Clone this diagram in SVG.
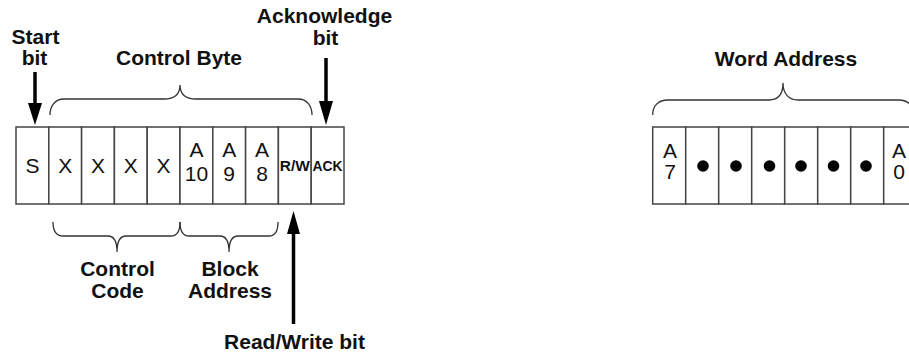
<svg xmlns="http://www.w3.org/2000/svg" width="909" height="360" viewBox="0 0 909 360">
<style>
.lbl{font-family:"Liberation Sans",Arial,sans-serif;font-weight:bold;font-size:21px;fill:#111;text-anchor:middle}
.cell{fill:#fff;stroke:#444;stroke-width:1.5}
.ct{font-family:"Liberation Sans",Arial,sans-serif;font-size:21px;fill:#111;text-anchor:middle}
.cs{font-family:"Liberation Sans",Arial,sans-serif;font-size:21px;fill:#111;text-anchor:middle}
.sm{font-family:"Liberation Sans",Arial,sans-serif;font-weight:bold;font-size:14px;fill:#111;text-anchor:middle}
.brace{fill:none;stroke:#333;stroke-width:1.3}
.shaft{stroke:#000;stroke-width:3.5;fill:none}
.head{fill:#000}
</style>
<rect width="909" height="360" fill="#fff"/>
<g id="control-byte-row">
<rect class="cell" x="16" y="127" width="32.8" height="77"/>
<rect class="cell" x="48.8" y="127" width="32.8" height="77"/>
<rect class="cell" x="81.6" y="127" width="32.8" height="77"/>
<rect class="cell" x="114.4" y="127" width="32.8" height="77"/>
<rect class="cell" x="147.2" y="127" width="32.8" height="77"/>
<rect class="cell" x="180" y="127" width="32.8" height="77"/>
<rect class="cell" x="212.8" y="127" width="32.8" height="77"/>
<rect class="cell" x="245.6" y="127" width="32.8" height="77"/>
<rect class="cell" x="278.4" y="127" width="32.8" height="77"/>
<rect class="cell" x="311.2" y="127" width="32.8" height="77"/>
<text class="ct" x="32.4" y="173">S</text>
<text class="ct" x="65.2" y="173">X</text>
<text class="ct" x="98" y="173">X</text>
<text class="ct" x="130.8" y="173">X</text>
<text class="ct" x="163.6" y="173">X</text>
<text class="cs" x="196.4" y="157">A</text>
<text class="cs" x="196.4" y="181">10</text>
<text class="cs" x="229.2" y="157">A</text>
<text class="cs" x="229.2" y="181">9</text>
<text class="cs" x="262" y="157">A</text>
<text class="cs" x="262" y="181">8</text>
<text class="sm" x="294.8" y="171" textLength="30" lengthAdjust="spacingAndGlyphs">R/W</text>
<text class="sm" x="327.6" y="171" textLength="30" lengthAdjust="spacingAndGlyphs">ACK</text>
</g>
<g id="word-address-row">
<rect class="cell" x="652.7" y="127" width="33" height="77"/>
<rect class="cell" x="685.7" y="127" width="33" height="77"/>
<rect class="cell" x="718.7" y="127" width="33" height="77"/>
<rect class="cell" x="751.7" y="127" width="33" height="77"/>
<rect class="cell" x="784.7" y="127" width="33" height="77"/>
<rect class="cell" x="817.7" y="127" width="33" height="77"/>
<rect class="cell" x="850.7" y="127" width="33" height="77"/>
<rect class="cell" x="883.7" y="127" width="40" height="77"/>
<text class="cs" x="670" y="158">A</text>
<text class="cs" x="670" y="179">7</text>
<circle cx="703" cy="166" r="5.8" fill="#000"/>
<circle cx="736" cy="166" r="5.8" fill="#000"/>
<circle cx="769.5" cy="166" r="5.8" fill="#000"/>
<circle cx="801" cy="166" r="5.8" fill="#000"/>
<circle cx="833.5" cy="166" r="5.8" fill="#000"/>
<circle cx="866" cy="166" r="5.8" fill="#000"/>
<text class="cs" x="899" y="158">A</text>
<text class="cs" x="899" y="179">0</text>
</g>
<g id="labels">
<text class="lbl" x="35.5" y="44">Start</text>
<text class="lbl" x="34.5" y="65">bit</text>
<text class="lbl" x="179" y="65">Control Byte</text>
<text class="lbl" x="324.5" y="23">Acknowledge</text>
<text class="lbl" x="325.5" y="45">bit</text>
<text class="lbl" x="786" y="66">Word Address</text>
<text class="lbl" x="117.5" y="276">Control</text>
<text class="lbl" x="117.5" y="298">Code</text>
<text class="lbl" x="230" y="276">Block</text>
<text class="lbl" x="230" y="298">Address</text>
<text class="lbl" x="294.5" y="349">Read/Write bit</text>
</g>
<g id="connectors">
<path class="brace" d="M50,115 C50,106 55,99 64,99 H164 C174,99 180,95 180,85 C180,95 186,99 196,99 H298 C307,99 312,106 312,115"/>
<path class="brace" d="M652.7,115 C652.7,106 658,100 668,100 H769 C778,100 783,94 783,83 C783,94 789,100 798,100 H899 C908,100 914,106 914,115"/>
<path class="brace" d="M53,222 C53,231 56,236 63,236 H108 C114,236 117,241 117,252 C117,241 120,236 126,236 H171 C177,236 180,231 180,222"/>
<path class="brace" d="M180,222 C180,231 183,236 189,236 H220 C226,236 229,241 229,252 C229,241 232,236 238,236 H269 C275,236 278,231 278,222"/>
<line class="shaft" x1="35" y1="72" x2="35" y2="106"/>
<path class="head" d="M28,103 L42,103 L35,125 Z"/>
<line class="shaft" x1="326" y1="58" x2="326" y2="104"/>
<path class="head" d="M319,101 L333,101 L326,125 Z"/>
<line class="shaft" x1="293.5" y1="230" x2="293.5" y2="324"/>
<path class="head" d="M287,234 L300,234 L293.5,211 Z"/>
</g>
</svg>
